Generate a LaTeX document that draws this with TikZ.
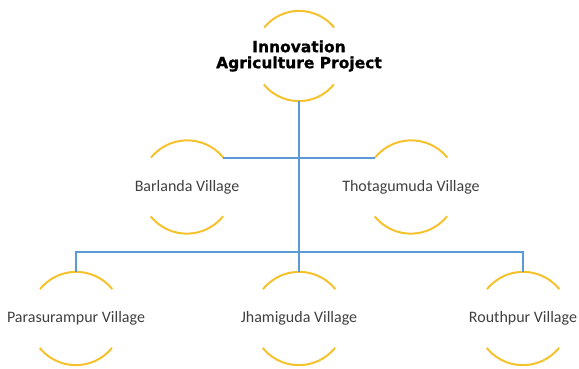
\documentclass[tikz,border=0pt]{standalone}
\usepackage{fontspec}
\setmainfont{Carlito}
\newfontfamily\titlefont[BoldFeatures={FakeBold=1.2}]{DejaVu Sans}
\definecolor{ringyellow}{RGB}{245,194,45}
\definecolor{linkblue}{RGB}{91,155,213}
\definecolor{txtgray}{RGB}{64,64,64}
\begin{document}
\begin{tikzpicture}[x=1pt,y=-1pt,
  ring/.style={circle,minimum size=93pt,inner sep=0pt,font=\fontsize{16}{19}\selectfont,text=txtgray},
  arcline/.style={draw=ringyellow,line width=2pt},
  link/.style={draw=linkblue,line width=2pt}]
\useasboundingbox (0,0) rectangle (579,368);
% nodes
\node[ring,minimum size=90pt,text=black,font=\titlefont\bfseries\fontsize{15.5}{21}\selectfont] (t) at (299,56)
  {\makebox[0pt]{\shortstack{Innovation\\[1pt]Agriculture Project}}};
\node[ring] (b) at (187,187) {\makebox[0pt]{Barlanda Village}};
\node[ring] (th) at (411,187) {\makebox[0pt]{Thotagumuda Village}};
\node[ring] (p) at (76,318.5) {\makebox[0pt]{Parasurampur Village}};
\node[ring] (j) at (299,318.5) {\makebox[0pt]{Jhamiguda Village}};
\node[ring] (r) at (523,318.5) {\makebox[0pt]{Routhpur Village}};
\coordinate (bus) at (299,252);
% rings (two arcs each); angles negated because the y axis points down
\foreach \n/\r in {t/45,b/46.5,th/46.5,p/46.5,j/46.5,r/46.5}{
  \draw[arcline] (\n.39) arc[start angle=-39,end angle=-141,radius=\r];
  \draw[arcline] (\n.219) arc[start angle=-219,end angle=-321,radius=\r];
}
% connectors
\draw[link] (t.south) -- (j.north);
\draw[link] (b.39) -- (th.141);
\draw[link] (p.north) |- (bus) -| (r.north);
\end{tikzpicture}
\end{document}
